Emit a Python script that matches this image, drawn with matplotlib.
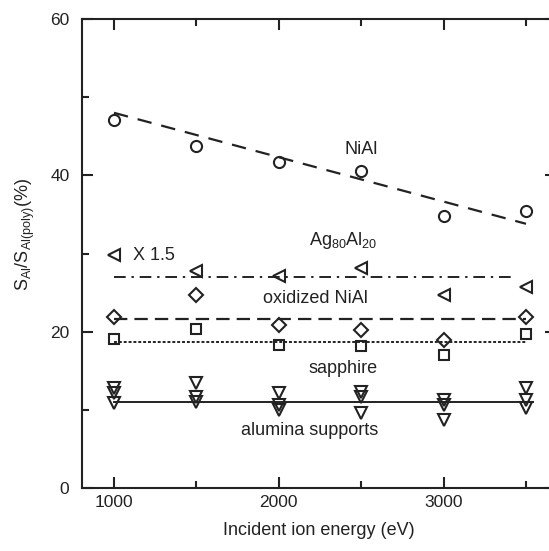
import matplotlib
matplotlib.use('Agg')
import matplotlib.pyplot as plt
from matplotlib.ticker import MultipleLocator

plt.rcParams['font.family'] = ['Liberation Sans', 'DejaVu Sans']
plt.rcParams['mathtext.fontset'] = 'custom'
plt.rcParams['mathtext.rm'] = 'Liberation Sans'
plt.rcParams['mathtext.it'] = 'Liberation Sans'
plt.rcParams['mathtext.default'] = 'regular'

energy = [1000, 1500, 2000, 2500, 3000, 3500]

# NiAl (circles) + linear fit
nial = [47.1, 43.7, 41.7, 40.5, 34.8, 35.4]
nial_fit = [48.0, 33.8]

# Ag80Al20 x 1.5 (left triangles)
agal = [29.8, 27.7, 27.1, 28.1, 24.7, 25.7]
agal_mean = 27.0

# oxidized NiAl (diamonds)
oxnial = [21.9, 24.7, 20.8, 20.2, 18.9, 21.9]
oxnial_mean = 21.6

# sapphire (squares)
sapphire = [19.0, 20.4, 18.3, 18.2, 17.0, 19.7]
sapphire_mean = 18.7

# alumina supports (down triangles), three samples per energy
alumina = [
    [12.8, 13.4, 12.1, 12.3, 11.3, 12.8],
    [12.1, 11.6, 10.6, 11.6, 10.6, 11.3],
    [10.9, 11.0, 10.0, 9.6, 8.7, 10.2],
]
alumina_mean = 11.0

c = '#222222'
W, H = 549, 551
fig = plt.figure(figsize=(W / 100, H / 100), dpi=100)
ax = fig.add_axes([82 / W, 1 - 488 / H, (556 - 82) / W, (488 - 19) / H])

mk = dict(ls='none', mfc='none', mec=c, mew=1.5, ms=8)
ax.plot(energy, nial, marker='o', **mk)
ax.plot([energy[0], energy[-1]], nial_fit, ls=(0, (6.5, 4.5)), color=c, lw=1.6)

ax.plot(energy, agal, marker='<', **mk)
ax.plot([energy[0], 3430], [agal_mean] * 2, ls=(0, (6, 3, 1.2, 3)), color=c, lw=1.4)

ax.plot(energy, oxnial, marker='D', **dict(mk, ms=7))
ax.plot([energy[0], energy[-1]], [oxnial_mean] * 2, ls=(0, (6, 3.2)), color=c, lw=1.6)

ax.plot(energy, sapphire, marker='s', **dict(mk, ms=7))
ax.plot([energy[0], energy[-1]], [sapphire_mean] * 2, ls=(0, (1.5, 1)), color=c, lw=1.4)

for row in alumina:
    ax.plot(energy, row, marker='v', **mk)
ax.plot([energy[0], 3540], [alumina_mean] * 2, ls='-', color=c, lw=1.4)

fs = 13
ax.text(2500, 43.3, 'NiAl', ha='center', va='center', fontsize=fs, color=c)
ax.text(2390, 31.7, 'Ag$_{80}$Al$_{20}$', ha='center', va='center', fontsize=fs, color=c)
ax.text(1115, 29.8, 'X 1.5', ha='left', va='center', fontsize=fs, color=c)
ax.text(2220, 24.3, 'oxidized NiAl', ha='center', va='center', fontsize=fs, color=c)
ax.text(2390, 15.3, 'sapphire', ha='center', va='center', fontsize=fs, color=c)
ax.text(2190, 7.4, 'alumina supports', ha='center', va='center', fontsize=fs, color=c)

ax.set_xlim(806, 3682)
ax.set_ylim(0, 60)
ax.xaxis.set_major_locator(MultipleLocator(1000))
ax.xaxis.set_minor_locator(MultipleLocator(500))
ax.yaxis.set_major_locator(MultipleLocator(20))
ax.yaxis.set_minor_locator(MultipleLocator(10))
ax.tick_params(which='both', direction='in', top=True, right=True, width=1.5,
               color=c, labelcolor=c, labelsize=12.5)
ax.tick_params(which='major', length=8)
ax.tick_params(which='minor', length=5)
ax.tick_params(axis='x', pad=5)
ax.tick_params(axis='y', pad=9)
for s in ax.spines.values():
    s.set_linewidth(1.5)
    s.set_color(c)

ax.set_xlabel('Incident ion energy (eV)', fontsize=fs, color=c, labelpad=9)
ax.set_ylabel('S$_{Al}$/S$_{Al(poly)}$(%)', fontsize=fs, color=c)
ax.yaxis.set_label_coords(-0.095, 0.54)

fig.savefig('out.png', dpi=100)
